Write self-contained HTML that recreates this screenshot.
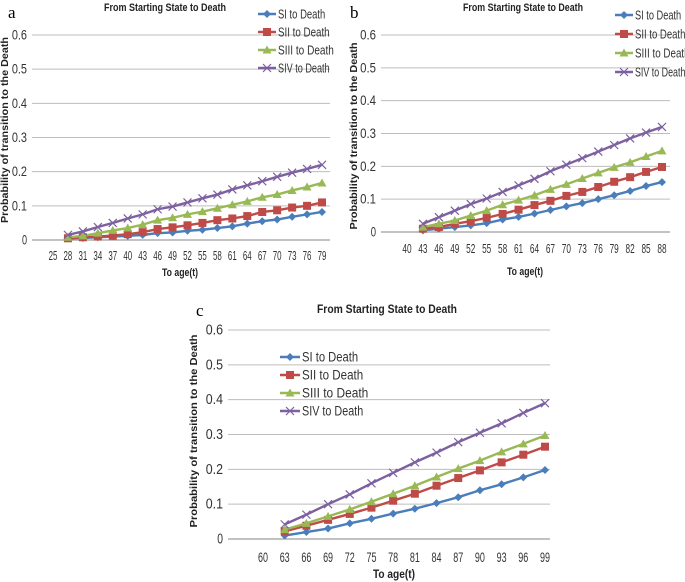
<!DOCTYPE html>
<html><head><meta charset="utf-8">
<style>
body{margin:0;background:#fff;}
svg{display:block;font-family:"Liberation Sans",sans-serif;}
</style></head>
<body>
<svg id="fig" width="685" height="582" viewBox="0 0 685 582" xmlns="http://www.w3.org/2000/svg"></svg>
<script>
const seriesNames = ["SI to Death","SII to Death","SIII to Death","SIV to Death"];
const yTicks = [0,0.1,0.2,0.3,0.4,0.5,0.6];
const catsA = [25,28,31,34,37,40,43,46,49,52,55,58,61,64,67,70,73,76,79];
const aSI  = [0.005,0.006,0.008,0.01,0.012,0.015,0.02,0.022,0.027,0.03,0.035,0.04,0.048,0.055,0.06,0.068,0.075,0.082];
const aSII = [0.005,0.008,0.01,0.013,0.017,0.023,0.032,0.037,0.043,0.05,0.058,0.063,0.07,0.082,0.087,0.095,0.1,0.11];
const aSIII= [0.008,0.012,0.02,0.028,0.035,0.045,0.058,0.065,0.075,0.083,0.093,0.103,0.113,0.125,0.133,0.145,0.155,0.167];
const aSIV = [0.015,0.025,0.038,0.05,0.063,0.075,0.09,0.098,0.11,0.122,0.133,0.148,0.16,0.172,0.185,0.197,0.208,0.22];
const catsB = [40,43,46,49,52,55,58,61,64,67,70,73,76,79,82,85,88];
const bSI  = [0.005,0.01,0.015,0.02,0.027,0.038,0.046,0.056,0.067,0.078,0.088,0.1,0.112,0.125,0.14,0.152];
const bSII = [0.01,0.015,0.025,0.033,0.043,0.055,0.068,0.082,0.095,0.11,0.122,0.137,0.153,0.167,0.183,0.198];
const bSIII= [0.015,0.025,0.035,0.05,0.065,0.083,0.097,0.112,0.13,0.145,0.163,0.18,0.197,0.212,0.23,0.247];
const bSIV = [0.025,0.045,0.065,0.085,0.102,0.122,0.142,0.162,0.185,0.205,0.225,0.245,0.265,0.285,0.303,0.32];
const catsC = [60,63,66,69,72,75,78,81,84,87,90,93,96,99];
const cSI  = [0.01,0.02,0.03,0.045,0.058,0.073,0.087,0.103,0.12,0.14,0.157,0.177,0.198];
const cSII = [0.022,0.038,0.055,0.072,0.09,0.11,0.13,0.153,0.175,0.197,0.22,0.242,0.265];
const cSIII= [0.027,0.045,0.065,0.085,0.107,0.13,0.153,0.178,0.202,0.225,0.25,0.273,0.297];
const cSIV = [0.042,0.07,0.1,0.128,0.16,0.19,0.22,0.248,0.278,0.305,0.332,0.362,0.39];

const NS="http://www.w3.org/2000/svg";
const svg=document.getElementById('fig');
const colors=["#4a7ebb","#be4b48","#98b954","#7d60a0"];
function el(tag,attrs,parent,txt){const e=document.createElementNS(NS,tag);for(const k in attrs)e.setAttribute(k,attrs[k]);if(txt!==undefined)e.textContent=txt;parent.appendChild(e);return e;}
function squeeze(e,len){e.setAttribute('textLength',len);e.setAttribute('lengthAdjust','spacingAndGlyphs');}

function marker(g,k,x,y,c){
  let m;
  if(k===0){m=el('polygon',{points:`${x},${y-4} ${x+4},${y} ${x},${y+4} ${x-4},${y}`,fill:c},g);}
  else if(k===1){m=el('rect',{x:x-4,y:y-4,width:8,height:8,fill:c},g);}
  else if(k===2){m=el('polygon',{points:`${x},${y-4.5} ${x+4.5},${y+3.5} ${x-4.5},${y+3.5}`,fill:c},g);}
  else {m=el('path',{d:`M${x-4} ${y-4}L${x+4} ${y+4}M${x-4} ${y+4}L${x+4} ${y-4}`,stroke:c,'stroke-width':1.2,fill:'none'},g);}
  return m;
}

function chart(cfg){
  const g=el('g',{},svg);
  
  
  const yS=v=>cfg.y0+(cfg.y6-cfg.y0)*v/0.6;
  const xS=i=>cfg.c0+i*(cfg.c1-cfg.c0)/(cfg.cats.length-1);
  yTicks.forEach(t=>{
    const gl=el('line',{x1:cfg.gx0,x2:cfg.gx1,y1:yS(t),y2:yS(t),stroke:t===0?'#868686':'#bdbdbd','stroke-width':1},g);
    
    
    const lab=t===0?'0':t.toFixed(1);
    const tl=el('text',{x:cfg.gx0-5,y:yS(t)+4.5,'text-anchor':'end','font-size':cfg.fs+1,fill:'#333'},g,lab);
    squeeze(tl,lab.length*cfg.cw*1.15);
    
    
  });
  cfg.cats.forEach((c,i)=>{
    const tl=el('text',{x:xS(i),y:cfg.y0+cfg.xlOff,'text-anchor':'middle','font-size':cfg.fs,fill:'#333'},g,c);
    squeeze(tl,String(c).length*cfg.cw);
    
    
  });
  cfg.series.forEach((s,k)=>{
    const pts=s.map((v,i)=>xS(i+1)+','+yS(v)).join(' ');
    const pl=el('polyline',{points:pts,fill:'none',stroke:colors[k],'stroke-width':2.4},g);
    
    
    s.forEach((v,i)=>{
      const m=marker(g,k,xS(i+1),yS(v),colors[k]);
      
      
    });
  });
  const t=el('text',{x:cfg.tx,y:cfg.ty,'text-anchor':'middle','font-size':cfg.tfs,'font-weight':'bold',fill:'#222'},g,'From Starting State to Death');
  squeeze(t,cfg.tlen);
  
  
  const p=el('text',{x:cfg.px,y:cfg.py,'font-size':17,'font-family':'Liberation Serif,serif',fill:'#000'},g,cfg.id);
  
  
  const xt=el('text',{x:cfg.xtx,y:cfg.xty,'text-anchor':'middle','font-size':cfg.tfs,'font-weight':'bold',fill:'#222'},g,'To age(t)');
  squeeze(xt,cfg.xtlen);
  
  
  const yc=cfg.ytc;
  const yt=el('text',{x:cfg.ytx,y:yc,'text-anchor':'middle','font-size':cfg.yfs,'font-weight':'bold',fill:'#222',transform:`rotate(-90 ${cfg.ytx} ${yc})`},g,'Probability of transition to the Death');
  squeeze(yt,cfg.ytlen);
  
  
  seriesNames.forEach((n,k)=>{
    const ly=cfg.ly+k*cfg.lgap;
    const lg=el('g',{},g);
    
    
    el('line',{x1:cfg.lx,x2:cfg.lx+cfg.lw,y1:ly,y2:ly,stroke:colors[k],'stroke-width':2.4},lg);
    marker(lg,k,cfg.lx+cfg.lw/2,ly,colors[k]);
    const lt=el('text',{x:cfg.lx+cfg.lw+2,y:ly+4.5,'font-size':cfg.lfs,fill:'#333'},lg,n);
    squeeze(lt,cfg.lcw*n.length);
  });
}

chart({id:'a',cats:catsA,series:[aSI,aSII,aSIII,aSIV],y0:240,y6:35,gx0:32,gx1:330,c0:53,c1:322,xlOff:20,fs:12.5,cw:4.4,
  tx:165,ty:11,tfs:11,tlen:122,px:8,py:18,xtx:180,xty:276,xtlen:36,ytx:8,ytc:130,yfs:10,ytlen:186,lx:258,lw:18,ly:14,lgap:18,lfs:12.5,lcw:4.3});
chart({id:'b',cats:catsB,series:[bSI,bSII,bSIII,bSIV],y0:232,y6:35,gx0:381,gx1:670,c0:407,c1:662,xlOff:21,fs:12.5,cw:4.6,
  tx:523,ty:11,tfs:11,tlen:120,px:350,py:18,xtx:525,xty:275,xtlen:36,ytx:357,ytc:136,yfs:10,ytlen:187,lx:615,lw:18,ly:15,lgap:19,lfs:12.5,lcw:4.2});
chart({id:'c',cats:catsC,series:[cSI,cSII,cSIII,cSIV],y0:539,y6:330,gx0:228,gx1:550,c0:263,c1:545,xlOff:23,fs:13.5,cw:5,
  tx:387,ty:313,tfs:12,tlen:140,px:196,py:316,xtx:394,xty:578,xtlen:42,ytx:197,ytc:431,yfs:10.5,ytlen:193,lx:280,lw:20,ly:357,lgap:18,lfs:13.5,lcw:5.1});
</script>
</body></html>
